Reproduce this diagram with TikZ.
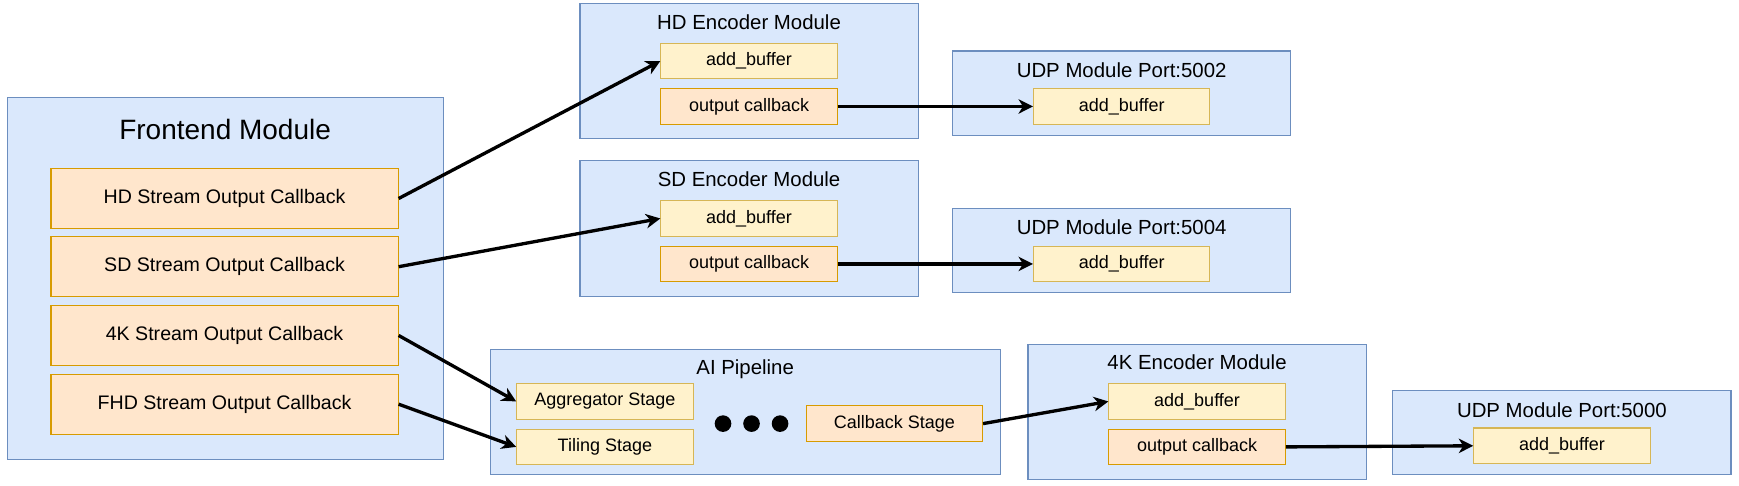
\documentclass[tikz,border=0pt]{standalone}
\usepackage{fontspec}
\setmainfont{Liberation Sans}
\usetikzlibrary{positioning, arrows.meta}
\definecolor{modfill}{HTML}{DAE8FC}
\definecolor{modline}{HTML}{6C8EBF}
\definecolor{yfill}{HTML}{FFF2CC}
\definecolor{yline}{HTML}{D6B656}
\definecolor{ofill}{HTML}{FFE6CC}
\definecolor{oline}{HTML}{D79B00}
\newlength\px
\setlength\px{0.5545pt}
\tikzset{
    module_box/.style={rectangle, draw=modline, fill=modfill, line width=1\px, inner sep=0pt},
    module_title/.style={text centered, align=center, font=\fontsize{10.2}{12}\selectfont},
    y_box/.style={rectangle, draw=yline, fill=yfill, line width=1\px, minimum width=159\px, minimum height=32\px, inner sep=0pt, text centered, align=center, font=\fontsize{9}{10.5}\selectfont},
    o_box/.style={y_box, draw=oline, fill=ofill},
    cb_box/.style={o_box, minimum width=313\px, minimum height=54\px, font=\fontsize{9.8}{11.5}\selectfont},
    dot/.style={circle, fill=black, minimum size=15\px, inner sep=0pt},
    arrow/.style={line width=3\px, -{Stealth[length=7.2pt, width=7.2pt, inset=2.2pt]}},
}
\begin{document}
\begin{tikzpicture}[x=\px, y=-\px]
      \useasboundingbox [fill=white] (0,0) rectangle (1568.2,438.2);

      % frontend
      \node (fe) [module_box, minimum width=393\px, minimum height=326\px] at (203.5,251) {};
      \node (fe_title) [module_title, font=\fontsize{14}{16}\selectfont] at (203,117) {Frontend Module};
      \node (hd_cb) [cb_box] at (202.5,179) {HD Stream Output Callback};
      \node (sd_cb) [cb_box] at (202.5,240.5) {SD Stream Output Callback};
      \node (uhd_cb) [cb_box] at (202.5,302.5) {4K Stream Output Callback};
      \node (fhd_cb) [cb_box] at (202.5,364.5) {FHD Stream Output Callback};

      % encoders
      \node (hd_enc) [module_box, minimum width=305\px, minimum height=122\px] at (675.5,64) {};
      \node (hd_enc_title) [module_title] at (675.5,20) {HD Encoder Module};
      \node (hd_add) [y_box] at (675.5,55) {add\_buffer};
      \node (hd_out) [o_box] at (675.5,96) {output callback};

      \node (sd_enc) [module_box, minimum width=305\px, minimum height=122\px] at (675.5,206) {};
      \node (sd_enc_title) [module_title] at (675.5,162) {SD Encoder Module};
      \node (sd_add) [y_box] at (675.5,197) {add\_buffer};
      \node (sd_out) [o_box] at (675.5,238) {output callback};

      \node (uhd_enc) [module_box, minimum width=305\px, minimum height=121\px] at (1079.5,371.5) {};
      \node (uhd_enc_title) [module_title] at (1079.5,327) {4K Encoder Module};
      \node (uhd_add) [y_box] at (1079.5,362) {add\_buffer};
      \node (uhd_out) [o_box] at (1079.5,403) {output callback};

      % udp
      \node (udp_a) [module_box, minimum width=305\px, minimum height=76\px] at (1011.5,84) {};
      \node (udp_a_title) [module_title] at (1011.5,63) {UDP Module Port:5002};
      \node (udp_a_add) [y_box] at (1011.5,96) {add\_buffer};

      \node (udp_b) [module_box, minimum width=305\px, minimum height=76\px] at (1011.5,226) {};
      \node (udp_b_title) [module_title] at (1011.5,205) {UDP Module Port:5004};
      \node (udp_b_add) [y_box] at (1011.5,238) {add\_buffer};

      \node (udp_c) [module_box, minimum width=305\px, minimum height=76\px] at (1408.5,390) {};
      \node (udp_c_title) [module_title] at (1408.5,370) {UDP Module Port:5000};
      \node (udp_c_add) [y_box] at (1408.5,402) {add\_buffer};

      % ai pipeline
      \node (ai) [module_box, minimum width=460\px, minimum height=113\px] at (672,371.5) {};
      \node (ai_title) [module_title] at (672,333) {AI Pipeline};
      \node (agg) [y_box] at (545.5,362) {Aggregator Stage};
      \node (tile) [y_box] at (545.5,403) {Tiling Stage};
      \node (dot_1) [dot] at (652,382) {};
      \node (dot_2) [dot, right=10\px of dot_1] {};
      \node (dot_3) [dot, right=10\px of dot_2] {};
      \node (cb_stage) [o_box] at (806.5,382) {Callback Stage};

      \draw [arrow] (hd_cb.east) -- (hd_add.west);
      \draw [arrow] (sd_cb.east) -- (sd_add.west);
      \draw [arrow] (uhd_cb.east) -- (agg.west);
      \draw [arrow] (fhd_cb.east) -- (tile.west);
      \draw [arrow] (hd_out) -- (udp_a_add);
      \draw [arrow] (sd_out) -- (udp_b_add);
      \draw [arrow] (cb_stage.east) -- (uhd_add.west);
      \draw [arrow] (uhd_out.east) -- (udp_c_add.west);
\end{tikzpicture}
\end{document}
